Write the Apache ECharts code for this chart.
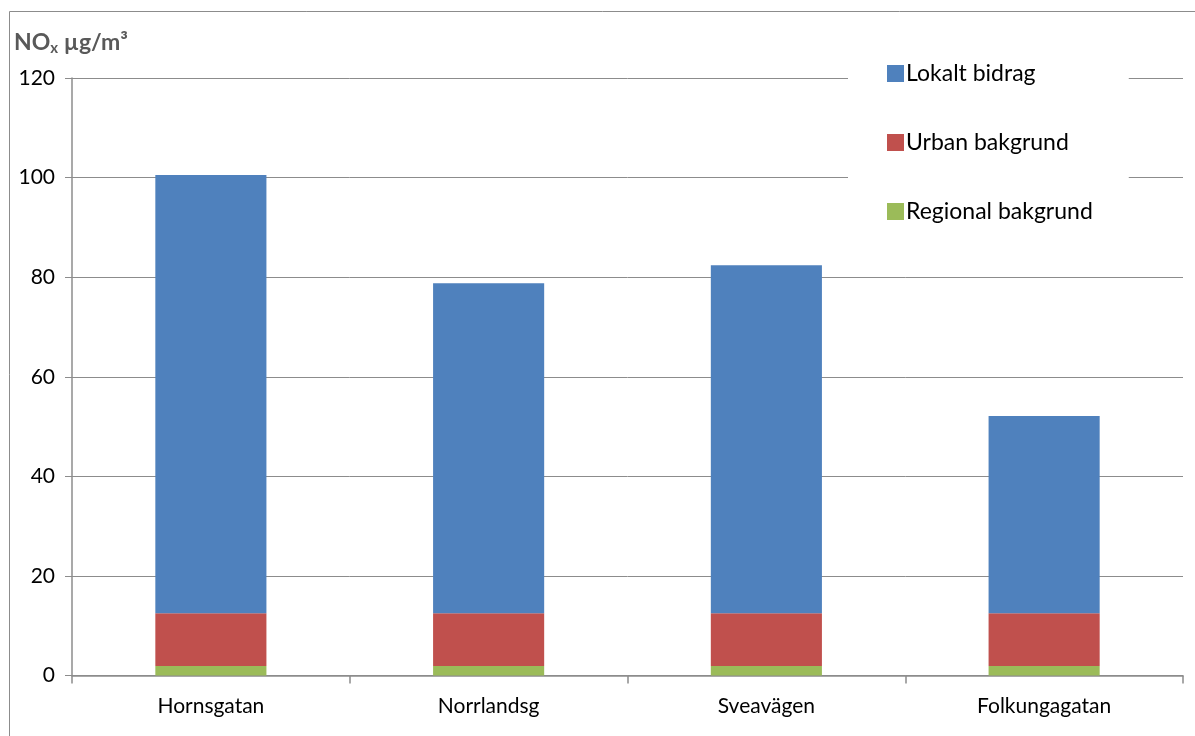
<!DOCTYPE html>
<html>
<head>
<meta charset="utf-8">
<script src="https://cdn.jsdelivr.net/npm/echarts@6/dist/echarts.min.js"></script>
<style>
  html, body { margin: 0; padding: 0; background: #fff; }
  #main { width: 1195px; height: 736px; }
</style>
</head>
<body>
<div id="main"></div>
<script>
// data
var categories = ['Hornsgatan', 'Norrlandsg', 'Sveavägen', 'Folkungagatan'];
var regional = [1.9, 1.9, 1.9, 1.9];      // Regional bakgrund
var urban = [10.6, 10.6, 10.6, 10.6];     // Urban bakgrund
var lokalt = [88.0, 66.3, 69.9, 39.6];    // Lokalt bidrag
var yTicks = [0, 20, 40, 60, 80, 100, 120];

var fontFam = 'Lato, "Open Sans", sans-serif';
var myChart = echarts.init(document.getElementById('main'));

var option = {
    animation: false,
    textStyle: { fontFamily: fontFam },
    graphic: [
        {
            type: 'rect',
            shape: { x: 9.5, y: 11.5, width: 1200, height: 760 },
            style: { fill: 'none', stroke: '#8c8c8c', lineWidth: 1 },
            z: -10
        },
        {
            type: 'text',
            left: 14,
            top: 31,
            style: {
                text: '{b|NO}{s|x}{b| µg/m³}',
                rich: {
                    b: { fontSize: 23, fontWeight: 'bold', fill: '#595959', fontFamily: fontFam },
                    s: { fontSize: 15, fontWeight: 'bold', fill: '#595959', fontFamily: fontFam, padding: [11, 0, 0, 0] }
                }
            }
        }
    ],
    grid: { left: 72, right: 12, top: 78, bottom: 60.5, containLabel: false },
    legend: {
        orient: 'vertical',
        left: 848,
        top: 50,
        padding: [12, 36, 12, 39],
        backgroundColor: '#fff',
        itemWidth: 17,
        itemHeight: 17,
        itemGap: 46,
        icon: 'rect',
        z: 10,
        textStyle: { fontSize: 23, color: '#000', fontFamily: fontFam, padding: [0, 0, 0, -3] },
        data: ['Lokalt bidrag', 'Urban bakgrund', 'Regional bakgrund']
    },
    xAxis: {
        type: 'category',
        data: categories,
        axisLine: { lineStyle: { color: '#8c8c8c', width: 1.5 } },
        axisTick: { show: true, length: 8, alignWithLabel: false, lineStyle: { color: '#8c8c8c', width: 1.5 } },
        axisLabel: { fontSize: 21, color: '#000', margin: 20 }
    },
    yAxis: {
        type: 'value',
        min: 0,
        max: 120,
        interval: 20,
        axisLine: { show: true, lineStyle: { color: '#8c8c8c', width: 1.5 } },
        axisTick: { show: true, length: 7, lineStyle: { color: '#8c8c8c' } },
        axisLabel: {
            fontSize: 21, color: '#000', margin: 17,
            formatter: function (v) { return yTicks.indexOf(v) >= 0 ? String(v) : ''; }
        },
        splitLine: { lineStyle: { color: '#8c8c8c', width: 1 } }
    },
    series: [
        {
            name: 'Regional bakgrund',
            type: 'bar',
            stack: 'nox',
            barWidth: '40%',
            itemStyle: { color: '#9bbb59' },
            data: regional
        },
        {
            name: 'Urban bakgrund',
            type: 'bar',
            stack: 'nox',
            itemStyle: { color: '#c0504d' },
            data: urban
        },
        {
            name: 'Lokalt bidrag',
            type: 'bar',
            stack: 'nox',
            itemStyle: { color: '#4f81bd' },
            data: lokalt
        }
    ]
};

myChart.setOption(option);
</script>
</body>
</html>
